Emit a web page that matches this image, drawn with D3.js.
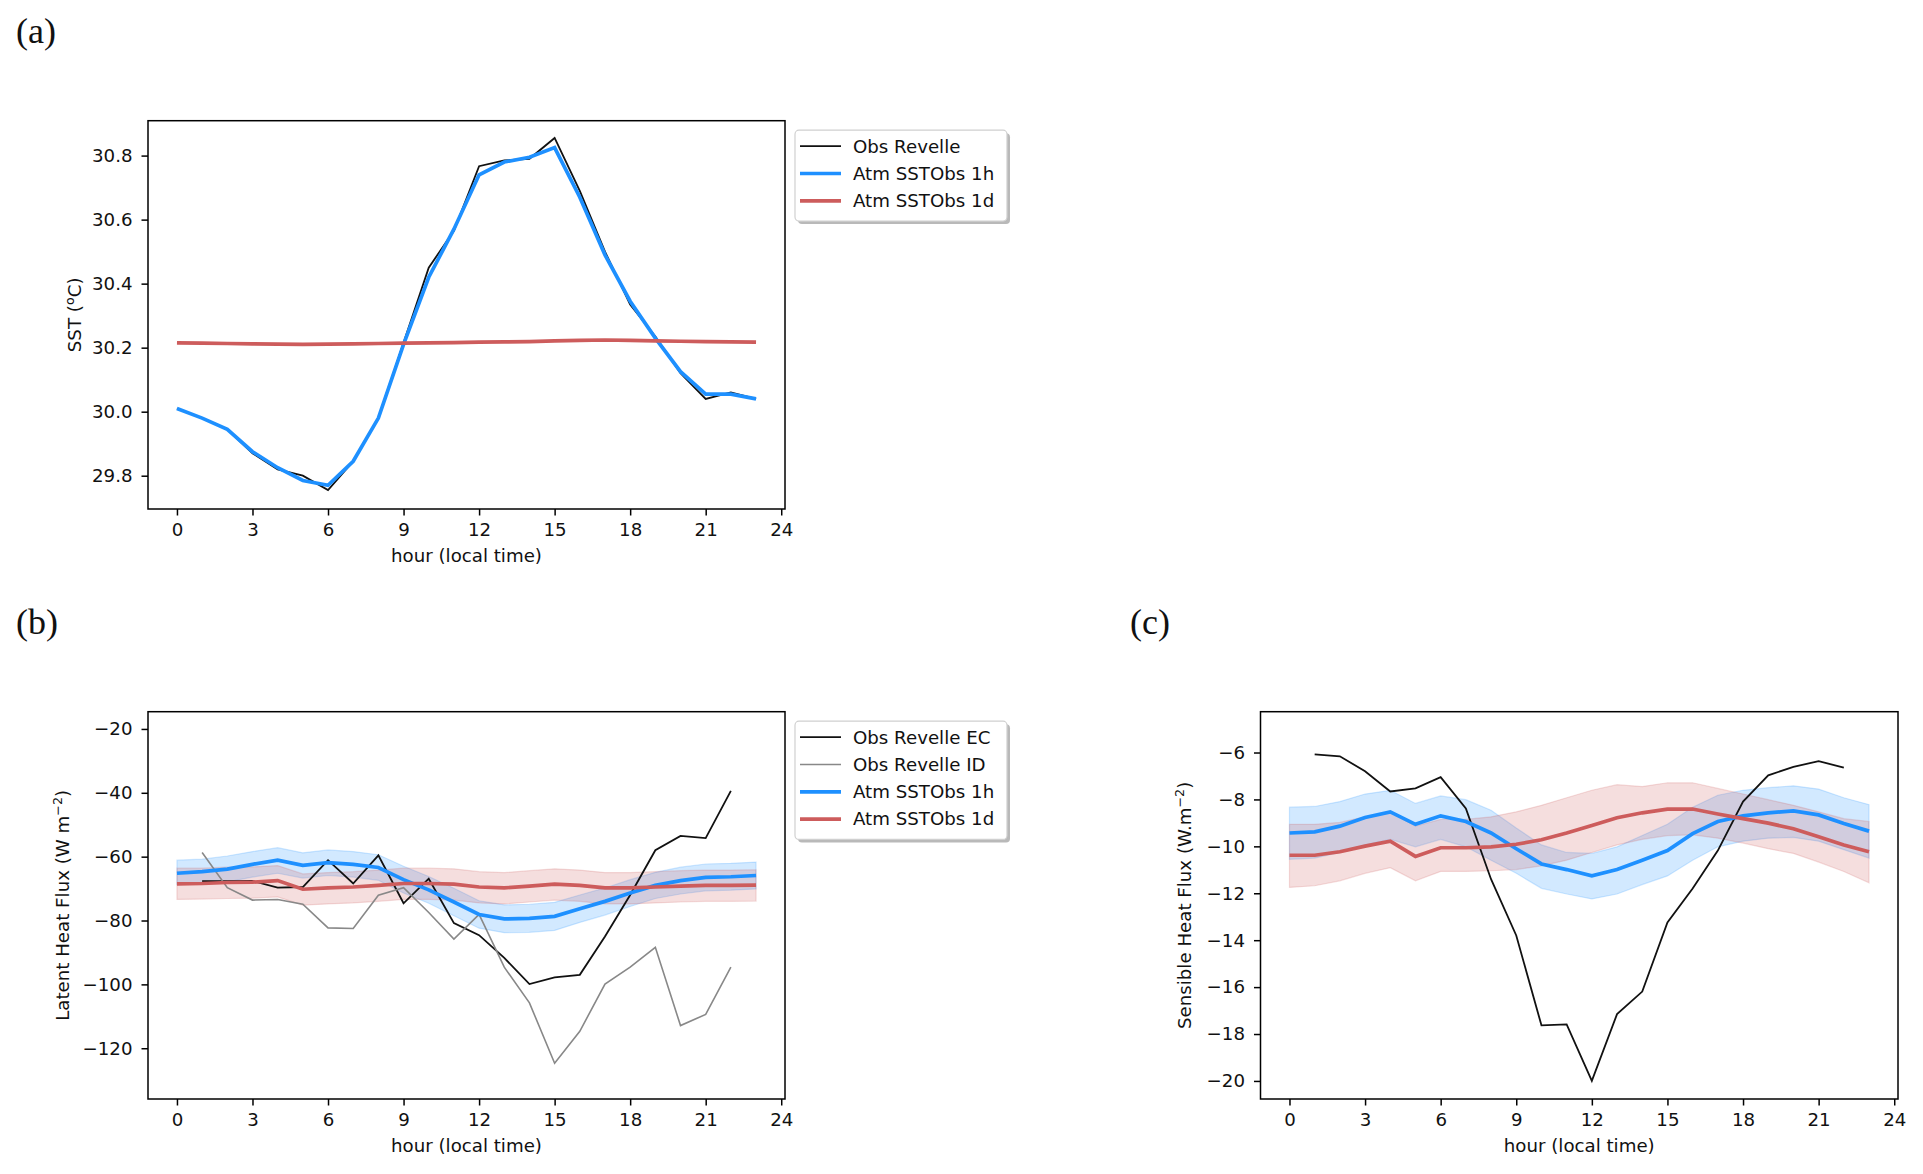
<!DOCTYPE html>
<html>
<head>
<meta charset="utf-8">
<script src="https://cdn.jsdelivr.net/npm/d3@7"></script>
<style>
  body { margin: 0; background: #fff; }
  svg text { font-family: "DejaVu Sans", sans-serif; fill: #111; }
</style>
</head>
<body>
<svg id="fig" width="1923" height="1174"></svg>
<script>
(function() {

  'use strict';

  // hours of the composite day
  var hours = [0, 1, 2, 3, 4, 5, 6, 7, 8, 9, 10, 11, 12, 13, 14, 15, 16, 17, 18, 19, 20, 21, 22, 23];
  var hourTicks = [0, 3, 6, 9, 12, 15, 18, 21, 24];

  // (a) SST
  var sstObs = [30.01, 29.98, 29.945, 29.87, 29.82, 29.80, 29.755, 29.845, 29.98, 30.215, 30.45, 30.565,
                30.767, 30.785, 30.79, 30.855, 30.69, 30.50, 30.335, 30.235, 30.12, 30.04, 30.06, 30.04];
  var sst1h = [30.01, 29.98, 29.945, 29.875, 29.825, 29.785, 29.77, 29.845, 29.98, 30.21, 30.42, 30.57,
               30.74, 30.78, 30.795, 30.825, 30.67, 30.49, 30.345, 30.23, 30.125, 30.055, 30.055, 30.04];
  var sst1d = [30.215, 30.214, 30.213, 30.212, 30.211, 30.210, 30.211, 30.212, 30.213, 30.214, 30.215, 30.216,
               30.217, 30.218, 30.219, 30.221, 30.223, 30.224, 30.223, 30.221, 30.220, 30.219, 30.218, 30.217];
  var sstTicks = [29.8, 30.0, 30.2, 30.4, 30.6, 30.8];

  // (b) latent heat flux
  var lhEC = [null, -67.7, -67.7, -67.6, -69.7, -69.5, -61.1, -68.4, -59.6, -74.6, -66.9, -80.8,
              -84.6, -91.7, -99.9, -97.8, -97.0, -85.0, -72.0, -58.0, -53.5, -54.2, -39.4, null];
  var lhID = [null, -58.7, -69.7, -73.6, -73.4, -74.9, -82.3, -82.5, -72.1, -69.7, -77.5, -85.8,
              -78.1, -94.6, -105.8, -124.7, -114.7, -99.9, -94.6, -88.4, -112.9, -109.4, -94.6, null];
  var lh1h = [-65.2, -64.7, -63.9, -62.4, -61.1, -62.7, -61.9, -62.4, -63.4, -67.2, -70.4, -74.2,
              -78.1, -79.5, -79.3, -78.7, -76.3, -74.0, -71.4, -69.0, -67.5, -66.5, -66.3, -65.9];
  var lh1hHi = [-61.1, -60.8, -59.8, -58.4, -57.2, -58.8, -57.9, -58.4, -59.4, -63.0, -66.2, -69.9,
                -73.8, -75.1, -74.9, -74.3, -72.0, -69.8, -67.2, -64.9, -63.3, -62.3, -62.1, -61.7];
  var lh1hLo = [-68.8, -68.6, -67.9, -66.4, -65.2, -66.7, -65.9, -66.4, -67.4, -71.4, -74.6, -78.5,
                -82.4, -83.8, -83.7, -83.1, -80.6, -78.3, -75.6, -73.1, -71.7, -70.7, -70.5, -70.1];
  var lh1d = [-68.5, -68.4, -68.1, -68.0, -67.5, -70.2, -69.8, -69.5, -69.0, -68.4, -68.4, -68.6,
              -69.5, -69.8, -69.2, -68.6, -69.0, -69.8, -69.8, -69.5, -69.2, -69.0, -69.0, -68.9];
  var lh1dHi = [-63.6, -63.6, -63.3, -63.2, -62.8, -65.4, -65.0, -64.7, -64.2, -63.6, -63.6, -63.8,
                -64.7, -65.0, -64.4, -63.8, -64.2, -65.0, -65.0, -64.7, -64.4, -64.2, -64.2, -64.1];
  var lh1dLo = [-73.4, -73.3, -73.1, -73.0, -72.6, -75.2, -74.8, -74.5, -74.0, -73.4, -73.4, -73.6,
                -74.5, -74.8, -74.2, -73.6, -74.0, -74.8, -74.8, -74.5, -74.2, -74.0, -74.0, -73.9];
  var lhTicks = [-120, -100, -80, -60, -40, -20];

  // (c) sensible heat flux
  var shEC = [null, -6.08, -6.16, -6.8, -7.66, -7.53, -7.05, -8.38, -11.4, -13.8, -17.63, -17.59,
              -20.0, -17.15, -16.19, -13.24, -11.8, -10.18, -8.09, -6.97, -6.61, -6.37, -6.64, null];
  var sh1h = [-9.43, -9.38, -9.14, -8.77, -8.53, -9.06, -8.70, -8.94, -9.43, -10.1, -10.75, -10.99,
              -11.26, -10.99, -10.59, -10.18, -9.46, -8.94, -8.70, -8.57, -8.49, -8.66, -9.03, -9.35];
  var sh1hHi = [-8.33, -8.30, -8.09, -7.77, -7.61, -8.17, -7.85, -8.01, -8.46, -9.22, -9.94, -10.26,
                -10.30, -10.02, -9.54, -9.06, -8.33, -7.82, -7.61, -7.50, -7.42, -7.56, -7.93, -8.22];
  var sh1hLo = [-10.55, -10.50, -10.26, -9.94, -9.70, -10.02, -9.70, -10.02, -10.59, -11.15, -11.79, -12.03,
                -12.24, -12.03, -11.63, -11.26, -10.59, -10.02, -9.78, -9.65, -9.62, -9.78, -10.14, -10.50];
  var sh1d = [-10.38, -10.38, -10.23, -9.99, -9.78, -10.43, -10.06, -10.06, -10.02, -9.91, -9.72, -9.43,
              -9.11, -8.78, -8.57, -8.41, -8.41, -8.62, -8.82, -9.01, -9.25, -9.59, -9.94, -10.23];
  var sh1dHi = [-9.06, -9.06, -8.98, -8.74, -8.53, -9.14, -8.85, -8.85, -8.74, -8.53, -8.25, -7.93,
                -7.61, -7.37, -7.45, -7.29, -7.29, -7.53, -7.77, -8.01, -8.25, -8.53, -8.82, -8.94];
  var sh1dLo = [-11.75, -11.68, -11.47, -11.15, -10.91, -11.47, -11.07, -11.07, -11.04, -10.99, -10.83, -10.59,
                -10.26, -9.94, -9.70, -9.54, -9.51, -9.65, -9.86, -10.10, -10.30, -10.67, -11.07, -11.55];
  var shTicks = [-20, -18, -16, -14, -12, -10, -8, -6];

  var blue = '#1e90ff', red = '#cd5c5c', black = '#111111', grey = '#888888';
  var fontSize = 18.2;

  var svg = d3.select('#fig');
  svg.append('rect').attr('width', 1923).attr('height', 1174).attr('fill', '#fff');

  function drawPanel(p) {
    var b = p.box;
    var g = svg.append('g');
    var x = d3.scaleLinear().domain([-1.15, 24.15]).range([b.x, b.x + b.w]);
    var y = d3.scaleLinear().domain(p.yDomain).range([b.y + b.h, b.y]);

    // spread bands (fill_between, alpha 0.2)
    p.bands.forEach(function(band) {
      var area = d3.area()
        .x(function(d, i) { return x(hours[i]); })
        .y0(function(d, i) { return y(band.lo[i]); })
        .y1(function(d, i) { return y(band.hi[i]); });
      g.append('path').datum(band.lo).attr('d', area)
        .attr('fill', band.color).attr('fill-opacity', 0.2)
        .attr('stroke', band.color).attr('stroke-opacity', 0.2).attr('stroke-width', 1.2);
    });

    // lines
    p.lines.forEach(function(s) {
      var line = d3.line()
        .defined(function(d) { return d !== null; })
        .x(function(d, i) { return x(hours[i]); })
        .y(function(d) { return y(d); });
      g.append('path').datum(s.values).attr('d', line)
        .attr('fill', 'none').attr('stroke', s.color).attr('stroke-width', s.width)
        .attr('stroke-linejoin', 'miter').attr('stroke-linecap', 'butt');
    });

    // axes
    var xAxis = d3.axisBottom(x).tickValues(hourTicks).tickSize(6.5).tickPadding(7.5)
      .tickFormat(d3.format('d'));
    var xg = g.append('g').attr('transform', 'translate(0,' + (b.y + b.h) + ')').call(xAxis);
    var yAxis = d3.axisLeft(y).tickValues(p.yTicks).tickSize(6.5).tickPadding(9)
      .tickFormat(d3.format(p.yFormat));
    var yg = g.append('g').attr('transform', 'translate(' + b.x + ',0)').call(yAxis);
    [xg, yg].forEach(function(ax) {
      ax.select('.domain').remove();
      ax.selectAll('line').attr('stroke', '#000').attr('stroke-width', 1.5);
      ax.selectAll('text').attr('font-size', fontSize).attr('font-family', 'DejaVu Sans').attr('fill', '#111');
    });

    g.append('rect').attr('x', b.x).attr('y', b.y).attr('width', b.w).attr('height', b.h)
      .attr('fill', 'none').attr('stroke', '#000').attr('stroke-width', 1.5);

    g.append('text').attr('x', b.x + b.w / 2).attr('y', b.y + b.h + 53)
      .attr('text-anchor', 'middle').attr('font-size', fontSize).text('hour (local time)');

    var yl = g.append('text')
      .attr('transform', 'translate(' + p.yLabelX + ',' + (b.y + b.h / 2) + ') rotate(-90)')
      .attr('text-anchor', 'middle').attr('dy', '0.35em').attr('font-size', fontSize);
    yl.append('tspan').text(p.yLabel[0]);
    yl.append('tspan').attr('baseline-shift', 'super').attr('font-size', fontSize * 0.7).text(p.yLabel[1]);
    yl.append('tspan').text(p.yLabel[2]);

    svg.append('text').attr('x', p.tag.x).attr('y', p.tag.y)
      .attr('font-size', 36).attr('fill', '#000')
      .style('font-family', '"Liberation Serif", "Times New Roman", serif').text(p.tag.text);

    if (p.legend) drawLegend(g, p.legend, b.x + b.w + 10, b.y + 9.5);
  }

  function drawLegend(g, items, lx, ly) {
    var rowH = 27.3, w = 212, h = 9 + items.length * rowH;
    g.append('rect').attr('x', lx + 3).attr('y', ly + 3).attr('width', w).attr('height', h)
      .attr('rx', 4).attr('fill', '#7f7f7f').attr('fill-opacity', 0.55);
    g.append('rect').attr('x', lx).attr('y', ly).attr('width', w).attr('height', h)
      .attr('rx', 4).attr('fill', '#fff').attr('stroke', '#d0d0d0').attr('stroke-width', 1.2);
    items.forEach(function(it, i) {
      var cy = ly + 16 + i * rowH;
      g.append('line').attr('x1', lx + 5).attr('x2', lx + 46).attr('y1', cy).attr('y2', cy)
        .attr('stroke', it.color).attr('stroke-width', it.width);
      g.append('text').attr('x', lx + 58).attr('y', cy).attr('dy', '0.35em')
        .attr('font-size', fontSize).text(it.name);
    });
  }

  drawPanel({
    box: {x: 148, y: 120.7, w: 637, h: 388.3},
    yDomain: [29.696, 30.909],
    yTicks: sstTicks, yFormat: '.1f',
    yLabel: ['SST (', 'o', 'C)'], yLabelX: 75,
    tag: {text: '(a)', x: 16, y: 43},
    bands: [],
    lines: [
      {values: sstObs, color: black, width: 1.8},
      {values: sst1h, color: blue, width: 3.7},
      {values: sst1d, color: red, width: 3.7}
    ],
    legend: [
      {name: 'Obs Revelle', color: black, width: 1.8},
      {name: 'Atm SSTObs 1h', color: blue, width: 3.7},
      {name: 'Atm SSTObs 1d', color: red, width: 3.7}
    ]
  });

  drawPanel({
    box: {x: 148, y: 711.7, w: 637, h: 387.3},
    yDomain: [-135.9, -14.6],
    yTicks: lhTicks, yFormat: 'd',
    yLabel: ['Latent Heat Flux (W m', '\u22122', ')'], yLabelX: 63,
    tag: {text: '(b)', x: 16, y: 634},
    bands: [
      {lo: lh1hLo, hi: lh1hHi, color: blue},
      {lo: lh1dLo, hi: lh1dHi, color: red}
    ],
    lines: [
      {values: lhEC, color: black, width: 1.8},
      {values: lhID, color: grey, width: 1.6},
      {values: lh1h, color: blue, width: 3.7},
      {values: lh1d, color: red, width: 3.7}
    ],
    legend: [
      {name: 'Obs Revelle EC', color: black, width: 1.8},
      {name: 'Obs Revelle ID', color: grey, width: 1.6},
      {name: 'Atm SSTObs 1h', color: blue, width: 3.7},
      {name: 'Atm SSTObs 1d', color: red, width: 3.7}
    ]
  });

  drawPanel({
    box: {x: 1260.5, y: 711.7, w: 637.5, h: 387.3},
    yDomain: [-20.77, -4.26],
    yTicks: shTicks, yFormat: 'd',
    yLabel: ['Sensible Heat Flux (W.m', '\u22122', ')'], yLabelX: 1185,
    tag: {text: '(c)', x: 1130, y: 634},
    bands: [
      {lo: sh1hLo, hi: sh1hHi, color: blue},
      {lo: sh1dLo, hi: sh1dHi, color: red}
    ],
    lines: [
      {values: shEC, color: black, width: 1.8},
      {values: sh1h, color: blue, width: 3.7},
      {values: sh1d, color: red, width: 3.7}
    ],
    legend: null
  });

})();
</script>
</body>
</html>
